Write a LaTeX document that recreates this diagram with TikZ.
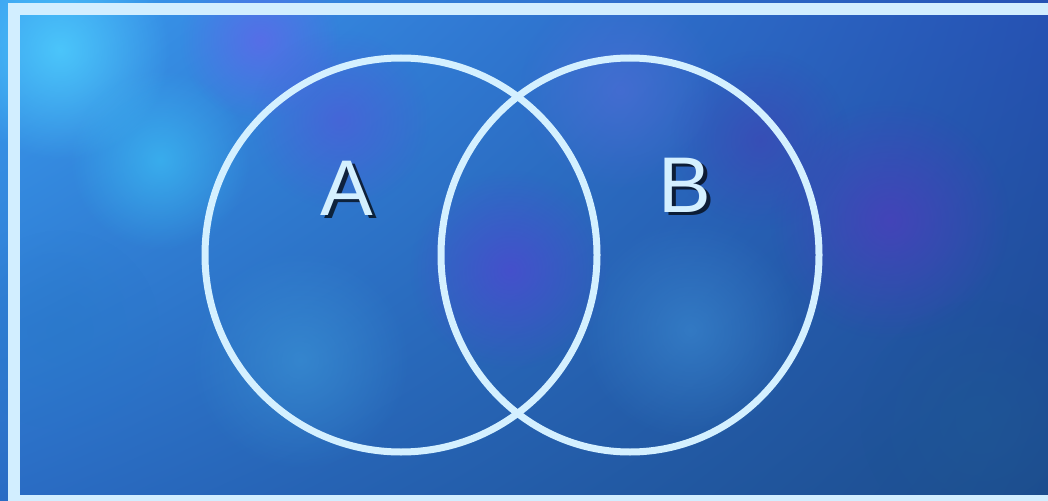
\documentclass[tikz,border=0pt]{standalone}
\usepackage{fontspec}
\setmainfont{Liberation Sans}
\usetikzlibrary{fadings,shadings}
\tikzfading[name=softblob, inner color=transparent!0, outer color=transparent!100]
\definecolor{frameblue}{HTML}{D2EEFF}
\definecolor{ringblue}{HTML}{D4F0FF}
\definecolor{ul}{HTML}{3A9CF0}
\definecolor{ur}{HTML}{2652B4}
\definecolor{ll}{HTML}{2A6CC4}
\definecolor{lr}{HTML}{1C4C8C}
\tikzset{
  blob/.style={path fading=softblob},
  ring/.style={draw=ringblue, line width=7pt},
  label/.style={font=\fontsize{79}{79}\selectfont, text=ringblue, inner sep=0pt},
  shadowlabel/.style={font=\fontsize{79}{79}\selectfont, text=black, opacity=0.7, inner sep=0pt},
}
\begin{document}
\begin{tikzpicture}[x=1pt,y=-1pt]
\useasboundingbox (0,0) rectangle (1048,500);
\begin{scope}
\clip (0,0) rectangle (1048,500);
\shade[upper left=ul, upper right=ur, lower left=ll, lower right=lr] (0,0) rectangle (1048,500);
% texture blobs
\fill[blob, color={rgb,255:red,80;green,210;blue,255}, opacity=0.8] (60,50) circle (110);
\fill[blob, color={rgb,255:red,60;green,190;blue,245}, opacity=0.7] (160,160) circle (90);
\fill[blob, color={rgb,255:red,100;green,100;blue,235}, opacity=0.7] (260,40) circle (80);
\fill[blob, color={rgb,255:red,90;green,80;blue,220}, opacity=0.5] (340,120) circle (90);
\fill[blob, color={rgb,255:red,80;green,70;blue,210}, opacity=0.7] (510,270) circle (100);
\fill[blob, color={rgb,255:red,80;green,60;blue,190}, opacity=0.7] (890,220) circle (120);
\fill[blob, color={rgb,255:red,70;green,60;blue,180}, opacity=0.5] (760,140) circle (90);
\fill[blob, color={rgb,255:red,60;green,150;blue,215}, opacity=0.6] (300,360) circle (110);
\fill[blob, color={rgb,255:red,60;green,140;blue,210}, opacity=0.6] (690,330) circle (110);
\fill[blob, color={rgb,255:red,90;green,110;blue,220}, opacity=0.5] (620,90) circle (100);
\fill[blob, color={rgb,255:red,40;green,120;blue,200}, opacity=0.5] (60,330) circle (100);
\fill[blob, color={rgb,255:red,30;green,90;blue,150}, opacity=0.5] (980,420) circle (120);
% frame
\draw[draw=frameblue, line width=12pt] (14,9.5) rectangle (1070,500.5);
\end{scope}
% circles
\draw[ring] (401,255) ellipse [x radius=196, y radius=197];
\draw[ring] (630,255) ellipse [x radius=189, y radius=197];
% labels
\node[shadowlabel] (Ashadow) at (350.5,191.5) {A};
\node[label] (A) at (347,188) {A};
\node[shadowlabel] (Bshadow) at (688.5,188.5) {B};
\node[label] (B) at (685,185) {B};
\end{tikzpicture}
\end{document}
